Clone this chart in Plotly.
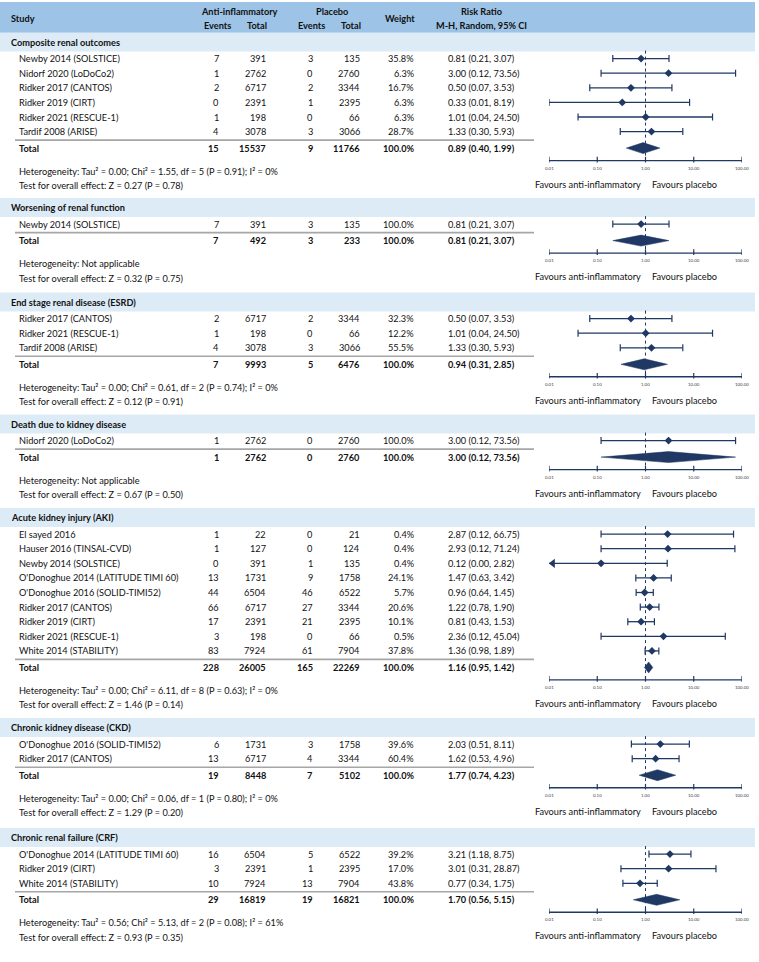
import math
import plotly.graph_objects as go

# ---------------- data ----------------
section_names = [
    "Composite renal outcomes",
    "Worsening of renal function",
    "End stage renal disease (ESRD)",
    "Death due to kidney disease",
    "Acute kidney injury (AKI)",
    "Chronic kidney disease (CKD)",
    "Chronic renal failure (CRF)",
]

study = [
    "Newby 2014 (SOLSTICE)", "Nidorf 2020 (LoDoCo2)", "Ridker 2017 (CANTOS)",
    "Ridker 2019 (CIRT)", "Ridker 2021 (RESCUE-1)", "Tardif 2008 (ARISE)",
    "Newby 2014 (SOLSTICE)",
    "Ridker 2017 (CANTOS)", "Ridker 2021 (RESCUE-1)", "Tardif 2008 (ARISE)",
    "Nidorf 2020 (LoDoCo2)",
    "El sayed 2016", "Hauser 2016 (TINSAL-CVD)", "Newby 2014 (SOLSTICE)",
    "O'Donoghue 2014 (LATITUDE TIMI 60)", "O'Donoghue 2016 (SOLID-TIMI52)",
    "Ridker 2017 (CANTOS)", "Ridker 2019 (CIRT)", "Ridker 2021 (RESCUE-1)",
    "White 2014 (STABILITY)",
    "O'Donoghue 2016 (SOLID-TIMI52)", "Ridker 2017 (CANTOS)",
    "O'Donoghue 2014 (LATITUDE TIMI 60)", "Ridker 2019 (CIRT)", "White 2014 (STABILITY)",
]
study_section = [0, 0, 0, 0, 0, 0,
                 1,
                 2, 2, 2,
                 3,
                 4, 4, 4, 4, 4, 4, 4, 4, 4,
                 5, 5,
                 6, 6, 6]
events_anti = [7, 1, 2, 0, 1, 4, 7, 2, 1, 4, 1, 1, 1, 0, 13, 44, 66, 17, 3, 83, 6, 13, 16, 3, 10]
total_anti = [391, 2762, 6717, 2391, 198, 3078, 391, 6717, 198, 3078, 2762,
              22, 127, 391, 1731, 6504, 6717, 2391, 198, 7924, 1731, 6717, 6504, 2391, 7924]
events_plac = [3, 0, 2, 1, 0, 3, 3, 2, 0, 3, 0, 0, 0, 1, 9, 46, 27, 21, 0, 61, 3, 4, 5, 1, 13]
total_plac = [135, 2760, 3344, 2395, 66, 3066, 135, 3344, 66, 3066, 2760,
              21, 124, 135, 1758, 6522, 3344, 2395, 66, 7904, 1758, 3344, 6522, 2395, 7904]
weight = [35.8, 6.3, 16.7, 6.3, 6.3, 28.7, 100.0, 32.3, 12.2, 55.5, 100.0,
          0.4, 0.4, 0.4, 24.1, 5.7, 20.6, 10.1, 0.5, 37.8, 39.6, 60.4, 39.2, 17.0, 43.8]
rr = [0.81, 3.00, 0.50, 0.33, 1.01, 1.33, 0.81, 0.50, 1.01, 1.33, 3.00,
      2.87, 2.93, 0.12, 1.47, 0.96, 1.22, 0.81, 2.36, 1.36, 2.03, 1.62, 3.21, 3.01, 0.77]
rr_lo = [0.21, 0.12, 0.07, 0.01, 0.04, 0.30, 0.21, 0.07, 0.04, 0.30, 0.12,
         0.12, 0.12, 0.00, 0.63, 0.64, 0.78, 0.43, 0.12, 0.98, 0.51, 0.53, 1.18, 0.31, 0.34]
rr_hi = [3.07, 73.56, 3.53, 8.19, 24.50, 5.93, 3.07, 3.53, 24.50, 5.93, 73.56,
         66.75, 71.24, 2.82, 3.42, 1.45, 1.90, 1.53, 45.04, 1.89, 8.11, 4.96, 8.75, 28.87, 1.75]

sum_events_anti = [15, 7, 7, 1, 228, 19, 29]
sum_total_anti = [15537, 492, 9993, 2762, 26005, 8448, 16819]
sum_events_plac = [9, 3, 5, 0, 165, 7, 19]
sum_total_plac = [11766, 233, 6476, 2760, 22269, 5102, 16821]
sum_weight = [100.0, 100.0, 100.0, 100.0, 100.0, 100.0, 100.0]
sum_rr = [0.89, 0.81, 0.94, 3.00, 1.16, 1.77, 1.70]
sum_lo = [0.40, 0.21, 0.31, 0.12, 0.95, 0.74, 0.56]
sum_hi = [1.99, 3.07, 2.85, 73.56, 1.42, 4.23, 5.15]

heterogeneity = [
    "Heterogeneity: Tau² = 0.00; Chi² = 1.55, df = 5 (P = 0.91); I² = 0%",
    "Heterogeneity: Not applicable",
    "Heterogeneity: Tau² = 0.00; Chi² = 0.61, df = 2 (P = 0.74); I² = 0%",
    "Heterogeneity: Not applicable",
    "Heterogeneity: Tau² = 0.00; Chi² = 6.11, df = 8 (P = 0.63); I² = 0%",
    "Heterogeneity: Tau² = 0.00; Chi² = 0.06, df = 1 (P = 0.80); I² = 0%",
    "Heterogeneity: Tau² = 0.56; Chi² = 5.13, df = 2 (P = 0.08); I² = 61%",
]
overall_effect = [
    "Test for overall effect: Z = 0.27 (P = 0.78)",
    "Test for overall effect: Z = 0.32 (P = 0.75)",
    "Test for overall effect: Z = 0.12 (P = 0.91)",
    "Test for overall effect: Z = 0.67 (P = 0.50)",
    "Test for overall effect: Z = 1.46 (P = 0.14)",
    "Test for overall effect: Z = 1.29 (P = 0.20)",
    "Test for overall effect: Z = 0.93 (P = 0.35)",
]

tick_values = [0.01, 0.1, 1, 10, 100]
tick_labels = ["0.01", "0.10", "1.00", "10.00", "100.00"]
axis_min, axis_max = 0.01, 100

# ---------------- styling / layout ----------------
W, H = 759, 962
FONT = "Lato"
FS = 9.2
NAVY = "#1F3864"
HEADER_BG = "#9DC3E6"
BAND_BG = "#DDEBF7"
TXT = "#111111"

X_SEC = 9
X_STUDY = 17
X_EV_A = 221
X_N_A = 268
X_EV_P = 315
X_N_P = 362
X_W = 416
X_RR = 446
FOREST_L, FOREST_R = 549, 742
BAND_CENTERS = [42, 207.5, 302, 424, 517.5, 727.5, 837.5]

fig = go.Figure()
shapes = []
annotations = []


def txt(x, y, s, anchor="left", bold=False, size=FS, color=TXT, xref="x", xshift=0):
    annotations.append(dict(
        x=x, y=y, xref=xref, yref="y", text=(f"<b>{s}</b>" if bold else s),
        showarrow=False, xanchor=anchor, yanchor="middle", xshift=xshift,
        font=dict(family=FONT, size=size, color=color)))


# header
shapes.append(dict(type="rect", xref="x", yref="y", x0=0, x1=755, y0=2, y1=33,
                   fillcolor=HEADER_BG, line=dict(width=0), layer="below"))
txt(X_SEC, 18, "Study", bold=True)
txt(239, 11, "Anti-inflammatory", anchor="center", bold=True)
txt(233, 25, "Events", anchor="right", bold=True)
txt(269, 25, "Total", anchor="right", bold=True)
txt(332, 11, "Placebo", anchor="center", bold=True)
txt(327, 25, "Events", anchor="right", bold=True)
txt(363, 25, "Total", anchor="right", bold=True)
txt(400, 18, "Weight", anchor="center", bold=True)
txt(481, 11, "Risk Ratio", anchor="center", bold=True)
txt(481, 25, "M-H, Random, 95% CI", anchor="center", bold=True)

ci_x, ci_y = [], []
cap_x, cap_y = [], []
pt_x, pt_y = [], []
arrow_x, arrow_y = [], []
dia_x, dia_y = [], []
ax_x, ax_y = [], []
tk_x, tk_y = [], []
dash_x, dash_y = [], []

for s, name in enumerate(section_names):
    band_c = BAND_CENTERS[s]
    shapes.append(dict(type="rect", xref="x", yref="y", x0=0, x1=755,
                       y0=band_c - 9.5, y1=band_c + 9.5,
                       fillcolor=BAND_BG, line=dict(width=0), layer="below"))
    txt(X_SEC, band_c, name, bold=True)
    idx = [i for i, v in enumerate(study_section) if v == s]
    row_y = [band_c + 16.6 + j * 14.6 for j in range(len(idx))]
    for i, ry in zip(idx, row_y):
        txt(X_STUDY, ry, study[i])
        txt(X_EV_A, ry, str(events_anti[i]), anchor="right")
        txt(X_N_A, ry, str(total_anti[i]), anchor="right")
        txt(X_EV_P, ry, str(events_plac[i]), anchor="right")
        txt(X_N_P, ry, str(total_plac[i]), anchor="right")
        txt(X_W, ry, f"{weight[i]:.1f}%", anchor="right")
        txt(X_RR, ry, f"{rr[i]:.2f} ({rr_lo[i]:.2f}, {rr_hi[i]:.2f})")
        lo = max(rr_lo[i], axis_min)
        ci_x += [lo, rr_hi[i], None]
        ci_y += [ry, ry, None]
        if rr_lo[i] < axis_min:
            arrow_x.append(axis_min * 1.2)
            arrow_y.append(ry)
        else:
            cap_x.append(lo)
            cap_y.append(ry)
        cap_x.append(rr_hi[i])
        cap_y.append(ry)
        pt_x.append(rr[i])
        pt_y.append(ry)
    last = row_y[-1]
    sep_y = last + 8.5
    shapes.append(dict(type="line", xref="x", yref="y", x0=15, x1=534, y0=sep_y, y1=sep_y,
                       line=dict(color="#A6A6A6", width=1.6)))
    tot_y = last + 16.5
    txt(X_STUDY, tot_y, "Total", bold=True)
    txt(X_EV_A, tot_y, str(sum_events_anti[s]), anchor="right", bold=True)
    txt(X_N_A, tot_y, str(sum_total_anti[s]), anchor="right", bold=True)
    txt(X_EV_P, tot_y, str(sum_events_plac[s]), anchor="right", bold=True)
    txt(X_N_P, tot_y, str(sum_total_plac[s]), anchor="right", bold=True)
    txt(X_W, tot_y, f"{sum_weight[s]:.1f}%", anchor="right", bold=True)
    txt(X_RR, tot_y, f"{sum_rr[s]:.2f} ({sum_lo[s]:.2f}, {sum_hi[s]:.2f})", bold=True)
    dia_x += [sum_lo[s], sum_rr[s], sum_hi[s], sum_rr[s], sum_lo[s], None]
    dia_y += [tot_y, tot_y - 5.5, tot_y, tot_y + 5.5, tot_y, None]
    het_y = tot_y + 23
    test_y = het_y + 14.5
    txt(X_STUDY, het_y, heterogeneity[s])
    txt(X_STUDY, test_y, overall_effect[s])
    axis_y = tot_y + 12.5
    ax_x += [axis_min, axis_max, None]
    ax_y += [axis_y, axis_y, None]
    for tv, tl in zip(tick_values, tick_labels):
        tk_x.append(tv)
        tk_y.append(axis_y - 1)
        # annotation positions on a log axis are given in log10 units
        txt(math.log10(tv), axis_y + 7.5, tl, anchor="center", size=4.4,
            color="#404040", xref="x2")
    dash_x += [1, 1, None]
    dash_y += [row_y[0] - 8, axis_y, None]
    fav_y = tot_y + 36
    txt(math.log10(1), fav_y, "Favours anti-inflammatory", anchor="right", xref="x2", xshift=-3)
    txt(math.log10(1), fav_y, "Favours placebo", anchor="left", xref="x2", xshift=4)

# forest traces (log axis x2)
common = dict(xaxis="x2", yaxis="y", hoverinfo="skip")
fig.add_trace(go.Scatter(x=dash_x, y=dash_y, mode="lines",
                         line=dict(color=NAVY, width=1, dash="dot"), **common))
fig.add_trace(go.Scatter(x=ax_x, y=ax_y, mode="lines",
                         line=dict(color=NAVY, width=1.4), **common))
fig.add_trace(go.Scatter(x=tk_x, y=tk_y, mode="markers",
                         marker=dict(symbol="line-ns", size=4, line=dict(color=NAVY, width=1.2)),
                         **common))
fig.add_trace(go.Scatter(x=ci_x, y=ci_y, mode="lines",
                         line=dict(color=NAVY, width=1.3), **common))
fig.add_trace(go.Scatter(x=cap_x, y=cap_y, mode="markers",
                         marker=dict(symbol="line-ns", size=5, line=dict(color=NAVY, width=1.2)),
                         **common))
fig.add_trace(go.Scatter(x=arrow_x, y=arrow_y, mode="markers",
                         marker=dict(symbol="triangle-left", size=8, color=NAVY), **common))
fig.add_trace(go.Scatter(x=pt_x, y=pt_y, mode="markers",
                         marker=dict(symbol="diamond", size=6, color=NAVY), **common))
fig.add_trace(go.Scatter(x=dia_x, y=dia_y, mode="lines", fill="toself", fillcolor=NAVY,
                         line=dict(color=NAVY, width=0.5), **common))

fig.update_layout(
    width=W, height=H, margin=dict(l=0, r=0, t=0, b=0),
    paper_bgcolor="white", plot_bgcolor="rgba(0,0,0,0)", showlegend=False, hovermode=False,
    xaxis=dict(range=[0, W], domain=[0, 1], anchor="y", visible=False, fixedrange=True),
    xaxis2=dict(type="log", range=[-2, 2], domain=[FOREST_L / W, FOREST_R / W],
                anchor="y", visible=False, fixedrange=True),
    yaxis=dict(range=[H, 0], domain=[0, 1], visible=False, fixedrange=True),
    shapes=shapes, annotations=annotations,
)

fig.write_html("out.html", config={"displayModeBar": False},
               post_script="document.body.style.margin='0';")
